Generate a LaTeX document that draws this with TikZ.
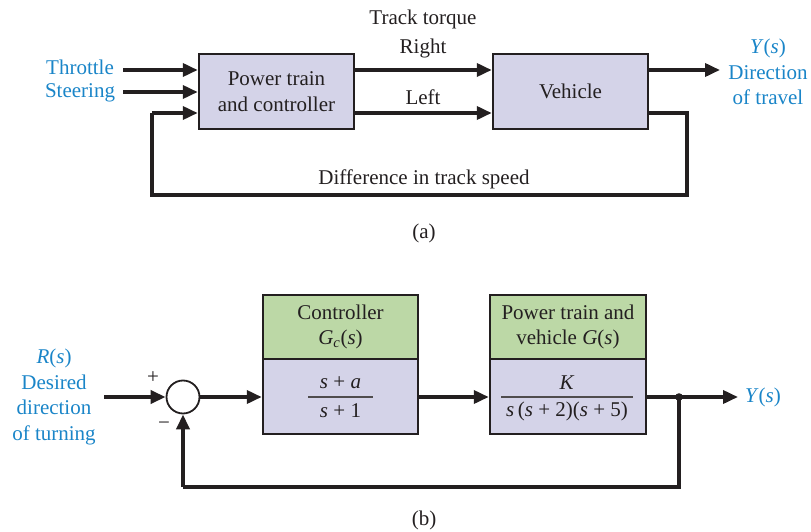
\documentclass[tikz,border=0pt]{standalone}
\usepackage{fontspec}
\setmainfont{Liberation Serif}
\usetikzlibrary{arrows.meta}
\definecolor{boxblue}{HTML}{D4D3E8}
\definecolor{boxgreen}{HTML}{BCD8A6}
\definecolor{lblue}{HTML}{1A85C8}
\definecolor{ink}{HTML}{231F20}
\tikzset{
  every node/.style={font=\fontsize{21}{25.5}\selectfont, text=ink, inner sep=0pt},
  blk/.style={draw=ink, line width=2.5pt, fill=boxblue},
  gblk/.style={draw=ink, line width=2.5pt, fill=boxgreen},
  sig/.style={draw=ink, line width=3.6pt, -{Triangle[length=15pt,width=13pt]}},
  wire/.style={draw=ink, line width=3.6pt},
  bluetxt/.style={text=lblue, align=center},
  frac/.style={draw=ink!80, line width=1.2pt}
}
\begin{document}
\begin{tikzpicture}[x=1pt,y=-1pt]
\useasboundingbox (0,0) rectangle (811,532);
% ---------- (a) ----------
\node[blk, minimum width=155pt, minimum height=75pt, align=center] (ptc) at (276.5,91.5) {Power train\\and controller};
\node[blk, minimum width=155pt, minimum height=75pt] (veh) at (570.5,91.5) {Vehicle};
\node[bluetxt] (thr) at (80,67) {Throttle};
\node[bluetxt] (ste) at (80,93) {Steering};
\coordinate (thrS) at (123,70);
\coordinate (steS) at (123,92);
\draw[sig] (thrS) -- (thrS -| ptc.west);
\draw[sig] (steS) -- (steS -| ptc.west);
\coordinate (rA) at (354,70);
\coordinate (lA) at (354,113);
\draw[sig] (rA) -- (rA -| veh.west);
\draw[sig] (lA) -- (lA -| veh.west);
\coordinate (outA) at (720,70);
\draw[sig] (outA -| veh.east) -- (outA);
\coordinate (fbR) at (687,195);
\coordinate (fbL) at (152,195);
\coordinate (fbIn) at (152,113);
\draw[wire] (648,113) -| (fbR) -- (fbL) -- (fbIn);
\draw[sig] (fbIn) -- (fbIn -| ptc.west);
\node (tt) at (423,19) {Track torque};
\node (rt) at (423,48) {Right};
\node (lt) at (423,97) {Left};
\node (dts) at (424,179) {Difference in track speed};
\node[bluetxt] (ya) at (768,72) {\textit{Y}(\textit{s})\\Direction\\of travel};
\node (la) at (424,233) {(a)};
% ---------- (b) ----------
\node[gblk, minimum width=155pt, minimum height=64pt, align=center] (ctop) at (340.5,327) {Controller\\\textit{G}\textsubscript{\textit{c}}(\textit{s})};
\node[blk, minimum width=155pt, minimum height=75pt] (cbot) at (340.5,396.5) {};
\node[gblk, minimum width=156pt, minimum height=64pt, align=center] (gtop) at (568,327) {Power train and\\vehicle \textit{G}(\textit{s})};
\node[blk, minimum width=156pt, minimum height=75pt] (gbot) at (568,396.5) {};
\node (cnum) at (340.5,383) {\textit{s} + \textit{a}};
\node (cden) at (340.5,411) {\textit{s} + 1};
\draw[frac] (308,397) -- (373,397);
\node (gnum) at (567,383) {\textit{K}};
\node (gden) at (567,411) {\textit{s}\,(\textit{s} + 2)(\textit{s} + 5)};
\draw[frac] (501,397) -- (633,397);
\node[circle, draw=ink, line width=1.8pt, minimum size=33pt, fill=white] (sum) at (183,397) {};
\node[bluetxt] (rs) at (54,397) {\textit{R}(\textit{s})\\Desired\\direction\\of turning};
\coordinate (inB) at (104,397);
\draw[sig] (inB) -- (sum.west);
\draw[sig] (sum.east) -- (cbot.west |- sum.east);
\draw[sig] (cbot.east |- sum) -- (gbot.west |- sum);
\coordinate (jn) at (679,397);
\coordinate (outB) at (738,397);
\draw[wire] (gbot.east |- jn) -- (jn);
\draw[sig] (jn) -- (outB);
\fill[ink] (jn) circle (3.8pt);
\coordinate (fbB) at (679,487);
\coordinate (fbB2) at (183,487);
\draw[wire] (jn) -- (fbB) -- (fbB2);
\draw[sig] (fbB2) -- (sum.south);
\node[text=lblue] (yb) at (763,397) {\textit{Y}(\textit{s})};
\node (plus) at (153,378) {+};
\node (minus) at (164,426) {−};
\node (lb) at (424,520) {(b)};
\end{tikzpicture}
\end{document}
